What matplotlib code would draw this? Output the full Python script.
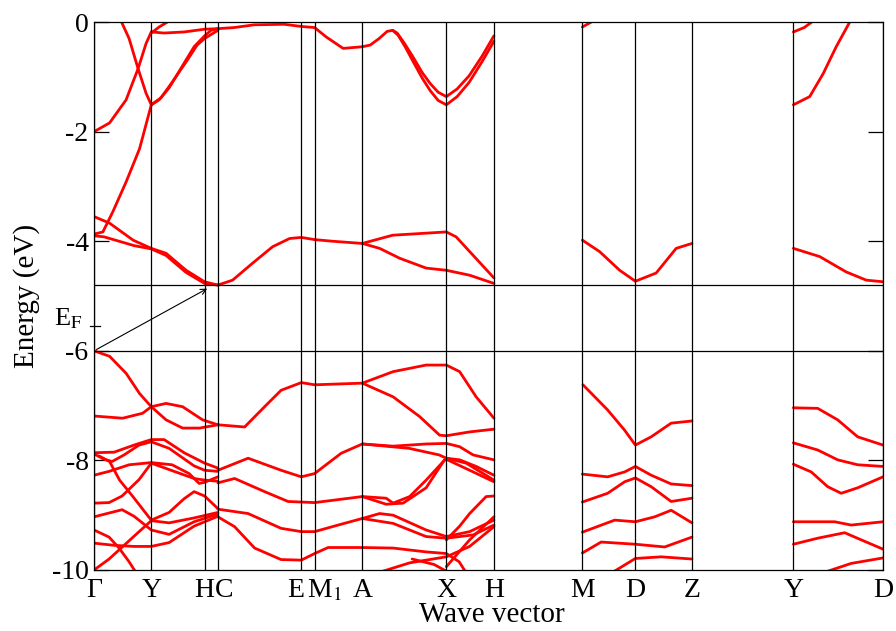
import matplotlib
matplotlib.use("Agg")
import matplotlib.pyplot as plt

plt.rcParams['font.family'] = ['Liberation Serif', 'DejaVu Serif']
plt.rcParams['mathtext.fontset'] = 'stix'
plt.rcParams['axes.unicode_minus'] = False

#------------ k-path --------------------
kpts = [0, 57.2, 110.5, 123.8, 207.2, 220.5, 268.2, 352.2, 399.8,
        488.2, 541.2, 597.8, 699.2, 788.8]
klabels = ['Γ', 'Y', 'H', 'C', 'E', 'M$_1$', 'A', 'X', 'H',
           'M', 'D', 'Z', 'Y', 'D']

cbm = -4.8   # conduction band minimum
vbm = -6.0   # valence band maximum

#------------ bands: (k, E) -----------------------------------------
# conduction bands, Gamma - Y - H - C
cond_GC = [
    [(0, -2.0), (15.5, -1.84), (32, -1.42), (44, -0.85), (52, -0.39), (57.2, -0.18)],
    [(57.2, -0.18), (70, -0.2), (90, -0.18), (110.5, -0.13), (123.8, -0.12)],
    [(57.2, -0.2), (65, -0.09), (75, 0.02)],
    [(27, 0.02), (35, -0.3), (44, -0.85), (52, -1.3), (57.2, -1.51)],
    [(57.2, -1.51), (65, -1.42), (75, -1.2), (90, -0.75), (100, -0.45),
     (110.5, -0.25), (117, -0.15), (123.8, -0.12)],
    [(57.2, -1.51), (67, -1.38), (78, -1.1), (93, -0.7), (103, -0.42),
     (110.5, -0.3), (123.8, -0.15)],
    [(0, -3.87), (8.8, -3.83), (18.8, -3.46), (32.2, -2.91), (45.5, -2.31), (57.2, -1.51)],
    [(0, -3.55), (15.5, -3.67), (39, -3.98), (57.2, -4.13), (72, -4.22),
     (92, -4.53), (110.5, -4.74), (123.8, -4.8)],
    [(0, -3.9), (10, -3.92), (25, -4.0), (40, -4.08), (57.2, -4.14), (72, -4.26),
     (92, -4.57), (110.5, -4.77), (123.8, -4.8)],
]

# conduction bands, C - E - M1 - A - X - H
cond_CH = [
    [(123.8, -0.12), (140, -0.1), (160, -0.05), (190, -0.04), (207.2, -0.08),
     (220.5, -0.1), (232, -0.27), (249, -0.48), (268.2, -0.45), (276, -0.42),
     (285, -0.3), (293, -0.17), (298.5, -0.15), (303, -0.2), (310, -0.38),
     (319, -0.64), (328, -0.92), (336, -1.12), (344, -1.28), (352.2, -1.36),
     (363, -1.22), (375, -0.98), (388, -0.62), (399.8, -0.25)],
    [(298.5, -0.15), (304, -0.24), (311, -0.45), (319, -0.72), (328, -1.02),
     (336, -1.25), (344, -1.43), (352.2, -1.51), (363, -1.36), (375, -1.1),
     (388, -0.72), (399.8, -0.35)],
    [(123.8, -4.8), (138.5, -4.71), (158.5, -4.4), (178.5, -4.1), (195.5, -3.95),
     (207.2, -3.93), (220.5, -3.97), (238.5, -4.0), (268.2, -4.04), (298.5, -3.89),
     (352.2, -3.83), (362, -3.92), (399.8, -4.67)],
    [(268.2, -4.04), (285.5, -4.13), (305.5, -4.31), (332, -4.49), (352.2, -4.53),
     (375.5, -4.62), (399.8, -4.77)],
]

# conduction bands, M - D - Z and Y - D
cond_MZ = [
    [(488.2, -0.09), (499, 0.02)],
    [(488.2, -3.98), (505.5, -4.19), (525.5, -4.53), (541.2, -4.73), (562, -4.58),
     (582, -4.13), (597.8, -4.04)],
]
cond_YD = [
    [(699.2, -0.18), (710, -0.1), (719, 0.02)],
    [(699.2, -1.51), (715.5, -1.36), (729, -0.94), (742, -0.45), (755.5, 0.0)],
    [(699.2, -4.13), (725.5, -4.28), (752, -4.56), (772, -4.71), (788.8, -4.74)],
]

# valence bands, Gamma - Y - H - C
val_GC = [
    [(0, -6.0), (15.5, -6.1), (32, -6.41), (45.5, -6.78), (57.2, -7.02), (72, -7.26),
     (88.5, -7.41), (105.5, -7.41), (123.8, -7.35)],
    [(0, -7.19), (28.5, -7.23), (48.5, -7.14), (57.2, -7.02), (72, -6.96),
     (88.5, -7.02), (108.5, -7.26), (123.8, -7.35)],
    [(0, -7.86), (20, -7.85), (40, -7.72), (57.2, -7.62), (70, -7.62), (90, -7.86),
     (110.5, -8.05), (123.8, -8.14)],
    [(0, -7.88), (10, -7.98), (18, -8.02), (30, -7.9), (45, -7.72), (57.2, -7.66),
     (75, -7.78), (100, -8.1), (110.5, -8.18), (123.8, -8.2)],
    [(0, -8.27), (15, -8.2), (35, -8.08), (57.2, -8.04), (78, -8.08), (95, -8.24),
     (105, -8.42), (110.5, -8.4), (123.8, -8.3)],
    [(0, -8.78), (15, -8.77), (28, -8.65), (45, -8.35), (57.2, -8.05), (80, -8.2),
     (100, -8.33), (110.5, -8.36), (123.8, -8.38)],
    [(5, -7.92), (15.5, -8.02), (25.5, -8.36), (38.8, -8.66), (52, -8.97),
     (57.2, -9.09), (75, -8.95), (90, -8.7), (100, -8.57), (110.5, -8.65),
     (123.8, -8.88)],
    [(0, -9.03), (15, -8.96), (28, -8.9), (40, -9.02), (57.2, -9.27), (75, -9.35),
     (100, -9.12), (123.8, -8.98)],
    [(0, -9.27), (15, -9.4), (25, -9.6), (35, -9.85), (42, -10.05)],
    [(0, -9.51), (20, -9.55), (40, -9.57), (57.2, -9.57), (75, -9.5), (100, -9.2),
     (123.8, -9.02)],
    [(0, -10.0), (15, -9.8), (30, -9.55), (45, -9.3), (57.2, -9.1), (75, -9.14),
     (100, -9.05), (123.8, -8.95)],
]

# valence bands, C - E - M1 - A - X - H
val_CH = [
    [(123.8, -7.35), (150.5, -7.39), (170.5, -7.02), (187, -6.72), (207.2, -6.58),
     (220.5, -6.62), (268.2, -6.59), (299, -6.38), (332, -6.26), (352.2, -6.26),
     (365.5, -6.38), (382, -6.84), (399.8, -7.23)],
    [(268.2, -6.59), (299, -6.84), (325.5, -7.2), (345.5, -7.54), (352.2, -7.55),
     (375.5, -7.48), (399.8, -7.43)],
    [(123.8, -8.18), (154, -7.96), (187, -8.18), (207.2, -8.3), (220.5, -8.24),
     (247, -7.87), (268.2, -7.7), (299, -7.74), (332, -7.7), (352.2, -7.69),
     (365.5, -7.75), (379, -7.9), (399.8, -7.99)],
    [(268.2, -7.7), (315, -7.78), (345, -7.9), (352.2, -7.96), (365.5, -7.99),
     (382, -8.11), (399.8, -8.27)],
    [(123.8, -8.41), (140.5, -8.33), (170.5, -8.57), (194, -8.75), (220.5, -8.77),
     (268.2, -8.66), (292, -8.69), (299, -8.78), (315.5, -8.66), (332, -8.36),
     (352.2, -7.96), (372, -8.05), (399.8, -8.36)],
    [(268.2, -8.66), (292, -8.8), (309, -8.78), (332, -8.5), (350, -8.0),
     (352.2, -7.98), (379, -8.21), (399.8, -8.39)],
    [(123.8, -8.89), (154, -8.97), (187, -9.24), (207.2, -9.3), (220.5, -9.3),
     (244, -9.18), (268.2, -9.06), (285.5, -8.97), (299, -9.0), (332, -9.27),
     (352.2, -9.39), (375.5, -9.3), (399.8, -9.09)],
    [(268.2, -9.06), (299, -9.15), (332, -9.39), (352.2, -9.42), (379, -9.36),
     (399.8, -9.18)],
    [(123.8, -9.03), (140.5, -9.21), (160.5, -9.6), (187, -9.81), (207.2, -9.82),
     (220.5, -9.7), (234, -9.59), (268.2, -9.59), (299, -9.6), (332, -9.67),
     (352.2, -9.7), (365, -9.85), (372, -10.05)],
    [(352.2, -9.45), (365.5, -9.2), (375.5, -8.97), (392, -8.66), (399.8, -8.65)],
    [(352.2, -9.94), (375.5, -9.45), (399.8, -9.03)],
    [(284, -10.05), (315.5, -9.87), (342, -9.79), (352.2, -9.76), (375.5, -9.57),
     (399.8, -9.21)],
    [(318, -9.8), (340, -9.9), (355, -10.05)],
]

# valence bands, M - D - Z
val_MZ = [
    [(488.8, -6.62), (513.5, -7.08), (530.5, -7.45), (541.2, -7.72), (557, -7.57),
     (577, -7.32), (597.8, -7.28)],
    [(488.2, -8.25), (513.5, -8.3), (530.5, -8.21), (541.2, -8.11), (557, -8.27),
     (577, -8.43), (597.8, -8.46)],
    [(488.2, -8.76), (513.5, -8.6), (530.5, -8.39), (541.2, -8.32), (557, -8.48),
     (577, -8.75), (597.8, -8.69)],
    [(488.2, -9.31), (520.5, -9.09), (541.2, -9.12), (560.5, -9.03), (577, -8.91),
     (597.8, -9.14)],
    [(488.2, -9.69), (507, -9.49), (541.2, -9.53), (570.5, -9.58), (597.8, -9.4)],
    [(520.5, -10.02), (541.2, -9.79), (567, -9.76), (597.8, -9.8)],
]

# valence bands, Y - D
val_YD = [
    [(699.2, -7.04), (723.5, -7.05), (743.5, -7.26), (763.5, -7.57), (788.8, -7.72)],
    [(699.2, -7.68), (723.5, -7.81), (743.5, -7.99), (763.5, -8.08), (788.8, -8.11)],
    [(699.2, -8.07), (717, -8.21), (733.5, -8.48), (747, -8.6), (763.5, -8.5),
     (788.8, -8.3)],
    [(699.2, -9.12), (740.5, -9.12), (757, -9.18), (788.8, -9.12)],
    [(699.2, -9.53), (723.5, -9.42), (750.5, -9.32), (767, -9.45), (788.8, -9.62)],
    [(734, -10.02), (757, -9.88), (788.8, -9.78)],
]

#------------ plot --------------------
fig = plt.figure(figsize=(8.96, 6.31), dpi=100)
ax = fig.add_axes([0.105, 0.0967, 0.8805, 0.8683])

for group in [cond_GC, cond_CH, cond_MZ, cond_YD, val_GC, val_CH, val_MZ, val_YD]:
    for band in group:
        k = [p[0] for p in band]
        e = [p[1] for p in band]
        ax.plot(k, e, color='red', lw=2.0, solid_joinstyle='round',
                solid_capstyle='round', zorder=2)

for kp in kpts:
    ax.axvline(kp, color='black', lw=0.9, zorder=3)
ax.axhline(cbm, color='black', lw=0.9, zorder=3)
ax.axhline(vbm, color='black', lw=0.9, zorder=3)

# arrow from VBM to CBM (indirect gap)
ax.annotate('', xy=(115.5, -4.84), xytext=(0, vbm),
            arrowprops=dict(arrowstyle='->', color='black', lw=0.8,
                            mutation_scale=10))

ax.set_xlim(kpts[0], kpts[-1])
ax.set_ylim(-10, 0)

# x labels placed by hand so the close pairs (H C, E M1) do not collide
ax.set_xticks(kpts)
ax.set_xticklabels([])
ax.tick_params(axis='x', length=0)
shift = {3: 6, 4: -6, 5: 10}
for i, (kp, lab) in enumerate(zip(kpts, klabels)):
    ax.text(kp + shift.get(i, 0), -10.15, lab, fontsize=20,
            ha='center', va='top')

ax.set_yticks([0, -2, -4, -6, -8, -10])
ax.set_yticklabels(['0', '-2', '-4', '-6', '-8', '-10'], fontsize=20)
ax.tick_params(axis='y', direction='in', length=11, width=0.9,
               right=True, pad=4)

# Fermi level mark
ax.text(-0.014, (-5.42 + 10) / 10, 'E$_\\mathrm{F}$', transform=ax.transAxes,
        fontsize=19, ha='right', va='center')
ax.plot([-0.005, 0.008], [(-5.54 + 10) / 10] * 2, color='black', lw=0.9,
        transform=ax.transAxes, clip_on=False)

for s in ax.spines.values():
    s.set_linewidth(0.9)

ax.set_xlabel('Wave vector', fontsize=21)
ax.xaxis.set_label_coords(0.504, -0.058)
ax.set_ylabel('Energy (eV)', fontsize=21)
ax.yaxis.set_label_coords(-0.068, 0.5)

plt.savefig('out.png', dpi=100)
